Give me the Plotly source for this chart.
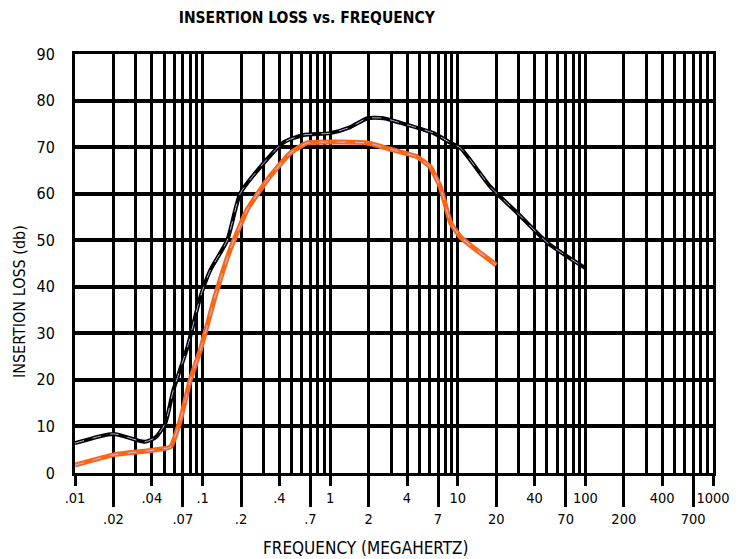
import plotly.graph_objects as go

# ---- data ----
black_freq = [0.01, 0.02, 0.035, 0.043, 0.051, 0.059, 0.076, 0.096, 0.115, 0.156, 0.197, 0.283,
              0.43, 0.617, 1.0, 1.44, 1.96, 2.62, 3.56, 6.46, 8.78, 10.5, 18.1, 29.4, 50.7, 100]
black_loss = [6.4, 8.4, 6.7, 7.7, 10.7, 17.8, 27.0, 37.8, 43.6, 50.0, 60.0, 65.7,
              71.0, 72.6, 73.0, 74.3, 76.2, 76.2, 75.2, 73.0, 70.9, 69.8, 61.4, 55.8, 49.4, 44.0]

orange_freq = [0.01, 0.02, 0.041, 0.056, 0.067, 0.08, 0.096, 0.125, 0.164, 0.223, 0.32, 0.486,
               0.66, 1.06, 1.96, 3.1, 4.8, 6.1, 7.3, 8.8, 10.5, 14, 20]
orange_loss = [1.7, 3.9, 4.9, 5.6, 11.4, 20.0, 26.4, 37.8, 47.9, 56.5, 62.9, 68.7,
               70.9, 71.1, 70.9, 69.4, 67.9, 65.7, 61.4, 53.7, 50.7, 47.9, 44.7]

upper_ticks = [0.01, 0.04, 0.1, 0.4, 1, 4, 10, 40, 100, 400, 1000]
upper_labels = [".01", ".04", ".1", ".4", "1", "4", "10", "40", "100", "400", "1000"]
lower_ticks = [0.02, 0.07, 0.2, 0.7, 2, 7, 20, 70, 200, 700]
lower_labels = [".02", ".07", ".2", ".7", "2", "7", "20", "70", "200", "700"]

grid_freqs = [m * 10 ** e for e in range(-2, 3) for m in range(1, 10)] + [1000]
y_ticks = [0, 10, 20, 30, 40, 50, 60, 70, 80, 90]

FONT = "DejaVu Sans Condensed, Liberation Sans Narrow, Liberation Sans, Arial, sans-serif"
ORANGE = "#ff6414"
LAV = "#b4b4ea"

fig = go.Figure()

fig.add_trace(go.Scatter(x=black_freq, y=black_loss, mode="lines",
                         line=dict(color="black", width=4, shape="spline", smoothing=0.6),
                         hoverinfo="skip"))
fig.add_trace(go.Scatter(x=black_freq, y=black_loss, mode="lines",
                         line=dict(color=LAV, width=1, dash="dash", shape="spline", smoothing=0.6),
                         hoverinfo="skip"))
fig.add_trace(go.Scatter(x=orange_freq, y=orange_loss, mode="lines",
                         line=dict(color=ORANGE, width=5, shape="spline", smoothing=0.4),
                         hoverinfo="skip"))
fig.add_trace(go.Scatter(x=orange_freq, y=orange_loss, mode="lines",
                         line=dict(color=LAV, width=1.2, dash="dash", shape="spline", smoothing=0.4),
                         hoverinfo="skip"))
# empty traces to host the tick-label axes
fig.add_trace(go.Scatter(x=[], y=[], xaxis="x2", yaxis="y", hoverinfo="skip"))
fig.add_trace(go.Scatter(x=[], y=[], xaxis="x3", yaxis="y", hoverinfo="skip"))

fig.update_layout(
    width=734, height=551,
    margin=dict(l=67, r=29, t=46, b=86),
    paper_bgcolor="white", plot_bgcolor="white",
    showlegend=False,
    font=dict(family=FONT, color="black"),
    title=dict(text="<b>INSERTION LOSS vs. FREQUENCY</b>", x=0.407, y=0.982,
               xanchor="center", yanchor="middle", font=dict(size=15.5, family=FONT)),
    xaxis=dict(type="log", range=[-2, 3], tickmode="array", tickvals=grid_freqs,
               showticklabels=False, ticks="", showgrid=True, gridcolor="black", gridwidth=3,
               showline=True, linecolor="black", linewidth=3, mirror=True, zeroline=False,
               automargin=False),
    xaxis2=dict(type="log", range=[-2, 3], overlaying="x", anchor="y", side="bottom",
                tickmode="array", tickvals=upper_ticks, ticktext=upper_labels,
                ticks="outside", ticklen=12, tickwidth=3, tickcolor="black",
                tickfont=dict(size=14.5, family=FONT), showgrid=False, showline=False,
                zeroline=False, automargin=False),
    xaxis3=dict(type="log", range=[-2, 3], overlaying="x", anchor="y", side="bottom",
                tickmode="array", tickvals=lower_ticks, ticktext=lower_labels,
                ticks="outside", ticklen=33, tickwidth=3, tickcolor="black",
                tickfont=dict(size=14.5, family=FONT), showgrid=False, showline=False,
                zeroline=False, automargin=False),
    yaxis=dict(range=[0, 90], tickmode="array", tickvals=y_ticks, ticks="",
               ticklabelstandoff=14, tickfont=dict(size=16, family=FONT),
               showgrid=True, gridcolor="black", gridwidth=4, zeroline=False,
               showline=True, linecolor="black", linewidth=3, mirror=True,
               automargin=False),
)

fig.add_annotation(text="INSERTION LOSS (db)", textangle=-90, xref="paper", yref="paper",
                   x=-0.088, y=0.41, xanchor="center", yanchor="middle", showarrow=False,
                   font=dict(size=16, family=FONT))
fig.add_annotation(text="FREQUENCY (MEGAHERTZ)", xref="paper", yref="paper",
                   x=0.456, y=-0.179, xanchor="center", yanchor="middle", showarrow=False,
                   font=dict(size=17, family=FONT))

fig.write_html("out.html")
